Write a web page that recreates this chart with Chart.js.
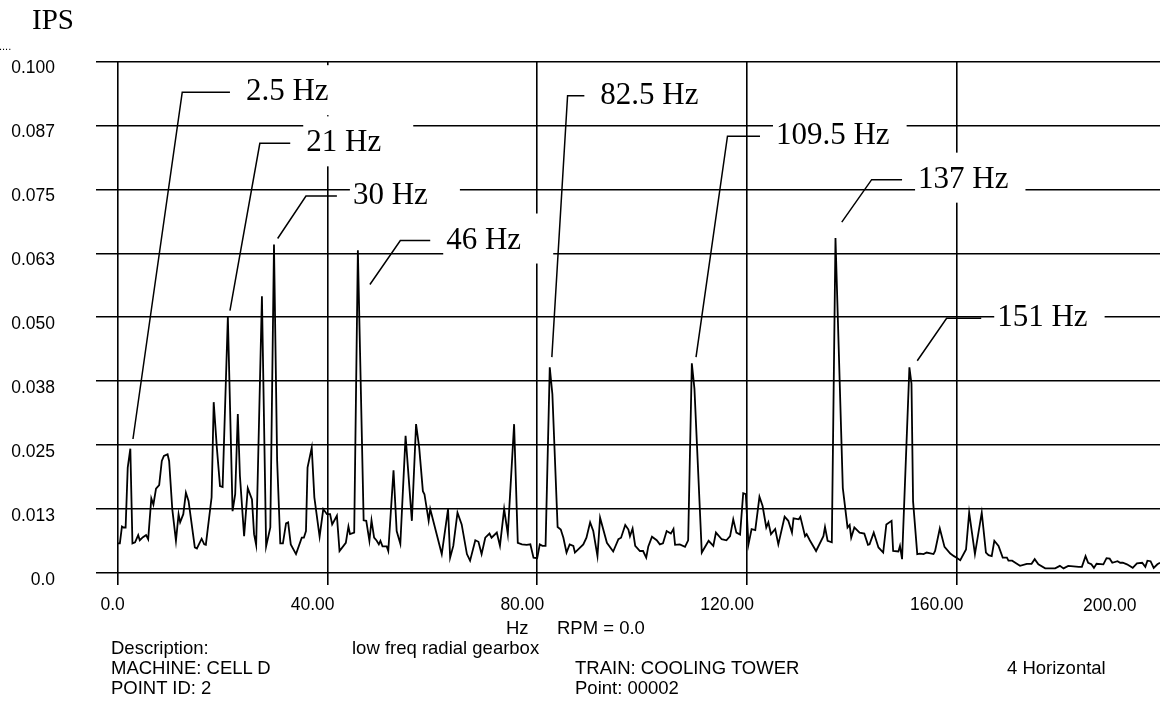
<!DOCTYPE html>
<html>
<head>
<meta charset="utf-8">
<script src="https://cdn.jsdelivr.net/npm/chart.js@4.4.1/dist/chart.umd.min.js"></script>
<style>
  body { margin: 0; background: #fff; }
  #wrap { position: relative; width: 1160px; height: 711px; overflow: hidden; }
  .t { position: absolute; font-family: "Liberation Sans", Arial, sans-serif; font-size: 18.5px; line-height: 20px; color: #000; white-space: nowrap; }
  .serif { font-family: "Liberation Serif", "Times New Roman", serif; }
</style>
</head>
<body>
<div id="wrap">
  <canvas id="spectrum"></canvas>
  <div class="t serif" style="left:32px; top:4px; font-size:29px; line-height:30px;">IPS</div>
  <div class="t" style="left:-1px; top:40px; font-size:11px; line-height:12px;">....</div>
  <div class="t" style="left:1083px; top:595px; font-size:17.5px;">200.00</div>
  <div class="t" style="left:506px; top:618px;">Hz</div>
  <div class="t" style="left:557px; top:618px;">RPM = 0.0</div>
  <div class="t" style="left:111px; top:638px;">Description:</div>
  <div class="t" style="left:352px; top:638px;">low freq radial gearbox</div>
  <div class="t" style="left:111px; top:658px;">MACHINE: CELL D</div>
  <div class="t" style="left:575px; top:658px;">TRAIN: COOLING TOWER</div>
  <div class="t" style="left:1007px; top:658px;">4 Horizontal</div>
  <div class="t" style="left:111px; top:678px;">POINT ID: 2</div>
  <div class="t" style="left:575px; top:678px;">Point: 00002</div>
</div>
<script>
// spectrum: frequency (Hz) and amplitude (IPS)
const hz = [
  0.0, 0.4, 0.8, 1.1, 1.5, 1.9, 2.4, 2.8, 3.3, 3.9, 4.2, 4.8, 5.4, 5.8, 6.4, 6.8, 7.3, 7.9, 8.4, 8.8,
  9.5, 9.8, 10.4, 11.1, 11.6, 11.9, 12.5, 13.0, 13.5, 14.7, 15.1, 16.0, 16.5, 16.8, 17.9, 18.3, 18.9, 19.5, 20.0, 21.0,
  21.9, 22.4, 22.9, 23.3, 24.1, 24.8, 25.6, 26.0, 26.4, 27.5, 28.3, 29.1, 29.8, 30.4, 31.0, 31.5, 32.1, 32.5, 33.0, 34.0,
  35.1, 35.5, 35.9, 36.2, 37.0, 37.5, 38.5, 39.2, 39.9, 40.5, 40.9, 41.8, 42.3, 43.5, 44.0, 44.3, 45.1, 45.8, 46.9, 47.4,
  48.0, 48.4, 48.9, 49.4, 49.8, 50.1, 50.5, 51.3, 51.6, 52.6, 53.2, 53.9, 54.9, 56.1, 56.9, 57.5, 58.2, 58.5, 59.3, 59.6,
  61.8, 63.0, 63.4, 64.0, 64.8, 65.6, 66.6, 67.2, 68.2, 68.8, 69.4, 70.1, 70.9, 71.3, 72.3, 72.9, 73.7, 74.4, 75.6, 76.3,
  77.1, 78.0, 78.7, 79.3, 80.0, 80.5, 81.0, 81.6, 82.4, 82.9, 83.9, 84.5, 85.0, 85.6, 86.2, 86.9, 87.2, 88.8, 89.4, 90.1,
  90.7, 91.5, 92.0, 93.3, 94.5, 95.5, 96.0, 96.8, 97.4, 97.7, 98.2, 98.7, 99.6, 100.2, 100.8, 101.2, 101.9, 102.8, 103.4, 104.0,
  104.7, 105.5, 106.0, 106.3, 107.2, 108.2, 108.8, 109.5, 110.0, 111.4, 112.7, 113.6, 114.1, 115.2, 116.1, 116.8, 117.4, 118.0, 118.7, 119.3,
  119.8, 120.3, 120.9, 121.6, 122.4, 123.0, 123.7, 124.1, 124.6, 125.4, 126.0, 127.2, 127.9, 128.6, 128.9, 129.9, 130.2, 131.1, 131.4, 132.0,
  133.2, 134.6, 134.9, 135.4, 136.2, 136.9, 138.3, 139.2, 139.6, 139.9, 140.5, 141.5, 142.4, 143.1, 143.4, 144.2, 145.1, 146.0, 146.6, 147.6,
  147.9, 148.9, 149.2, 149.6, 151.0, 151.4, 151.7, 152.5, 153.0, 153.7, 154.3, 155.6, 155.9, 156.8, 157.7, 158.8, 159.5, 160.0, 160.7, 161.8,
  162.4, 163.5, 164.8, 165.6, 166.1, 166.7, 167.2, 168.0, 168.8, 169.6, 169.9, 170.6, 171.2, 172.1, 173.4, 174.3, 174.9, 175.6, 176.9, 178.8,
  179.7, 180.4, 181.3, 183.3, 183.9, 184.6, 185.1, 185.7, 186.2, 186.7, 188.0, 188.6, 189.2, 189.7, 190.7, 191.2, 191.7, 192.5, 193.6, 194.4,
  195.4, 196.0, 196.4, 197.0, 197.6, 198.3, 198.8
];
const ips = [
  0.0058, 0.0058, 0.0091, 0.0089, 0.0089, 0.0206, 0.0243, 0.0058, 0.0060, 0.0074, 0.0064, 0.0070, 0.0074, 0.0066, 0.0146, 0.0134, 0.0165, 0.0172, 0.0219, 0.0229,
  0.0232, 0.0219, 0.0125, 0.0063, 0.0115, 0.0099, 0.0115, 0.0157, 0.0141, 0.0050, 0.0048, 0.0067, 0.0056, 0.0055, 0.0148, 0.0334, 0.0245, 0.0170, 0.0168, 0.0501,
  0.0121, 0.0154, 0.0311, 0.0190, 0.0072, 0.0166, 0.0144, 0.0076, 0.0055, 0.0541, 0.0052, 0.0089, 0.0642, 0.0220, 0.0058, 0.0058, 0.0097, 0.0099, 0.0056, 0.0037,
  0.0069, 0.0069, 0.0082, 0.0206, 0.0245, 0.0148, 0.0071, 0.0125, 0.0115, 0.0115, 0.0095, 0.0112, 0.0043, 0.0059, 0.0091, 0.0076, 0.0079, 0.0631, 0.0103, 0.0102,
  0.0063, 0.0103, 0.0069, 0.0063, 0.0056, 0.0063, 0.0052, 0.0052, 0.0043, 0.0201, 0.0082, 0.0057, 0.0268, 0.0102, 0.0291, 0.0245, 0.0160, 0.0154, 0.0102, 0.0125,
  0.0037, 0.0125, 0.0030, 0.0053, 0.0118, 0.0095, 0.0037, 0.0024, 0.0064, 0.0061, 0.0037, 0.0069, 0.0077, 0.0069, 0.0079, 0.0053, 0.0125, 0.0076, 0.0291, 0.0059,
  0.0056, 0.0055, 0.0056, 0.0030, 0.0029, 0.0056, 0.0053, 0.0053, 0.0402, 0.0350, 0.0090, 0.0085, 0.0069, 0.0040, 0.0056, 0.0053, 0.0040, 0.0056, 0.0069, 0.0099,
  0.0082, 0.0033, 0.0108, 0.0059, 0.0042, 0.0066, 0.0069, 0.0094, 0.0085, 0.0072, 0.0087, 0.0053, 0.0043, 0.0043, 0.0030, 0.0052, 0.0071, 0.0064, 0.0056, 0.0058,
  0.0082, 0.0077, 0.0086, 0.0055, 0.0056, 0.0051, 0.0064, 0.0410, 0.0360, 0.0040, 0.0063, 0.0053, 0.0079, 0.0066, 0.0064, 0.0072, 0.0105, 0.0079, 0.0075, 0.0156,
  0.0154, 0.0056, 0.0086, 0.0084, 0.0149, 0.0131, 0.0089, 0.0099, 0.0076, 0.0086, 0.0056, 0.0110, 0.0102, 0.0079, 0.0107, 0.0105, 0.0110, 0.0072, 0.0076, 0.0064,
  0.0043, 0.0072, 0.0090, 0.0063, 0.0060, 0.0655, 0.0166, 0.0089, 0.0094, 0.0069, 0.0089, 0.0079, 0.0077, 0.0055, 0.0056, 0.0079, 0.0050, 0.0040, 0.0095, 0.0102,
  0.0043, 0.0042, 0.0053, 0.0027, 0.0402, 0.0370, 0.0140, 0.0037, 0.0038, 0.0037, 0.0040, 0.0037, 0.0043, 0.0087, 0.0051, 0.0038, 0.0033, 0.0030, 0.0025, 0.0046,
  0.0118, 0.0037, 0.0118, 0.0040, 0.0035, 0.0033, 0.0063, 0.0053, 0.0030, 0.0030, 0.0024, 0.0024, 0.0020, 0.0014, 0.0018, 0.0018, 0.0027, 0.0017, 0.0009, 0.0009,
  0.0014, 0.0009, 0.0014, 0.0012, 0.0012, 0.0033, 0.0020, 0.0017, 0.0010, 0.0018, 0.0017, 0.0029, 0.0028, 0.0020, 0.0023, 0.0020, 0.0020, 0.0017, 0.0010, 0.0019,
  0.0020, 0.0012, 0.0024, 0.0023, 0.0010, 0.0017, 0.0020
];

const xTicks = [0, 40, 80, 120, 160];
const xTickLabels = ['0.0', '40.00', '80.00', '120.00', '160.00'];
const yTicks = [0, 0.0125, 0.025, 0.0375, 0.05, 0.0625, 0.075, 0.0875, 0.1];
const yTickLabels = ['0.0', '0.013', '0.025', '0.038', '0.050', '0.063', '0.075', '0.087', '0.100'];

// peak callouts: leader tip near the peak, elbow, end of the short horizontal run (data units)
const callouts = [
  { text: '2.5 Hz',   tip: [2.9, 0.0262],   elbow: [12.3, 0.0940],  endHz: 21.4 },
  { text: '21 Hz',    tip: [21.4, 0.0513],  elbow: [27.1, 0.0840],  endHz: 32.9 },
  { text: '30 Hz',    tip: [30.5, 0.0654],  elbow: [35.9, 0.0737],  endHz: 41.8 },
  { text: '46 Hz',    tip: [48.1, 0.0564],  elbow: [53.9, 0.0650],  endHz: 59.6 },
  { text: '82.5 Hz',  tip: [82.8, 0.0422],  elbow: [85.8, 0.0933],  endHz: 89.0 },
  { text: '109.5 Hz', tip: [110.3, 0.0422], elbow: [116.3, 0.0854], endHz: 122.5 },
  { text: '137 Hz',   tip: [138.1, 0.0686], elbow: [143.8, 0.0769], endHz: 149.6 },
  { text: '151 Hz',   tip: [152.5, 0.0415], elbow: [158.1, 0.0498], endHz: 164.7 }
];

const calloutPlugin = {
  id: 'callouts',
  afterDatasetsDraw(chart) {
    const { ctx, scales: { x, y } } = chart;
    ctx.save();
    ctx.font = '31px "Liberation Serif", "Times New Roman", serif';
    callouts.forEach(c => {
      const tx = x.getPixelForValue(c.tip[0]), ty = y.getPixelForValue(c.tip[1]);
      const ex = x.getPixelForValue(c.elbow[0]), ey = y.getPixelForValue(c.elbow[1]);
      const hx = x.getPixelForValue(c.endHz);
      const textX = hx + 16;
      const w = ctx.measureText(c.text).width;
      // white box hides the grid behind the label
      ctx.fillStyle = '#fff';
      ctx.fillRect(textX - 3, ey - 27, Math.max(110, w + 20), 50);
      ctx.strokeStyle = '#000';
      ctx.lineWidth = 1.5;
      ctx.beginPath();
      ctx.moveTo(tx, ty);
      ctx.lineTo(ex, ey);
      ctx.lineTo(hx, ey);
      ctx.stroke();
      ctx.fillStyle = '#000';
      ctx.textBaseline = 'alphabetic';
      ctx.fillText(c.text, textX, ey + 8);
    });
    ctx.restore();
  }
};

const ctx = document.getElementById('spectrum');
new Chart(ctx, {
  type: 'line',
  data: {
    datasets: [{
      data: hz.map((f, i) => ({ x: f, y: ips[i] })),
      borderColor: '#000',
      borderWidth: 1.8,
      pointRadius: 0,
      tension: 0
    }]
  },
  options: {
    animation: false,
    responsive: true,
    maintainAspectRatio: false,
    layout: { padding: { top: 61.5, right: 0, bottom: 0, left: 0 } },
    plugins: {
      legend: { display: false },
      tooltip: { enabled: false }
    },
    scales: {
      x: {
        type: 'linear',
        min: -4.15,
        max: 198.8,
        afterBuildTicks: s => { s.ticks = xTicks.map(v => ({ value: v })); },
        afterFit: s => { s.height = 711 - 573; },
        border: { display: false },
        grid: { color: '#000', lineWidth: 1.6, tickLength: 12 },
        ticks: {
          callback: (v, i) => xTickLabels[i],
          autoSkip: false,
          maxRotation: 0,
          align: 'end',
          padding: 10,
          labelOffset: 7,
          color: '#000',
          font: { family: '"Liberation Sans", Arial, sans-serif', size: 17.5 }
        }
      },
      y: {
        min: 0,
        max: 0.1,
        afterBuildTicks: s => { s.ticks = yTicks.map(v => ({ value: v })); },
        afterFit: s => { s.width = 96; },
        border: { display: false },
        grid: { color: '#000', lineWidth: 1.6, drawTicks: false },
        ticks: {
          callback: (v, i) => yTickLabels[i],
          padding: 41,
          labelOffset: 7,
          color: '#000',
          font: { family: '"Liberation Sans", Arial, sans-serif', size: 17.5 }
        }
      }
    }
  },
  plugins: [calloutPlugin]
});
</script>
</body>
</html>
